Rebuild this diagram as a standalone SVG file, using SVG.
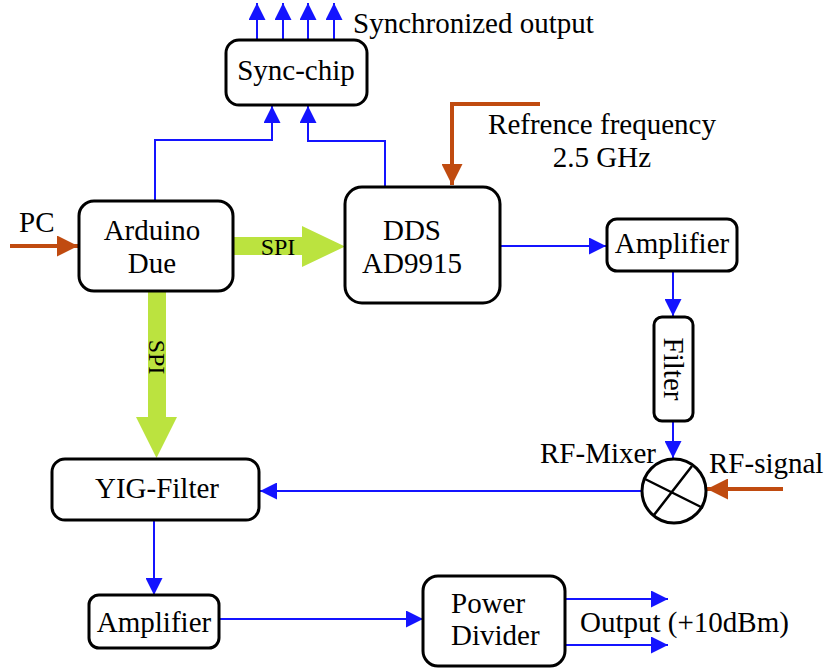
<svg xmlns="http://www.w3.org/2000/svg" width="825" height="668" viewBox="0 0 825 668">
<defs>
<style>
.box{fill:#fff;stroke:#000;stroke-width:3}
.t{font-family:"Liberation Serif","Times New Roman",serif;font-size:29px;fill:#000}
.m{text-anchor:middle}
.s{font-family:"Liberation Serif","Times New Roman",serif;font-size:24px;fill:#000;text-anchor:middle}
.bl{fill:none;stroke:#1414ff;stroke-width:2}
.or{fill:none;stroke:#c04b10;stroke-width:4}
.gr{fill:#bbe33f}
</style>
<marker id="ab" viewBox="0 0 10 10" refX="10" refY="5" markerWidth="17" markerHeight="17" markerUnits="userSpaceOnUse" orient="auto"><path d="M0,0 L10,5 L0,10 Z" fill="#1414ff"/></marker>
<marker id="ao" viewBox="0 0 10 10" refX="10" refY="5" markerWidth="21" markerHeight="21" markerUnits="userSpaceOnUse" orient="auto"><path d="M0,0 L10,5 L0,10 Z" fill="#c04b10"/></marker>
</defs>

<g id="connectors">
<path class="bl" d="M257,40 V3" marker-end="url(#ab)"/>
<path class="bl" d="M283,40 V3" marker-end="url(#ab)"/>
<path class="bl" d="M308,40 V3" marker-end="url(#ab)"/>
<path class="bl" d="M334,40 V3" marker-end="url(#ab)"/>
<path class="bl" d="M155,201 V140 H272 V106" marker-end="url(#ab)"/>
<path class="bl" d="M385,187 V141 H308 V106" marker-end="url(#ab)"/>
<path class="bl" d="M500,246 H606" marker-end="url(#ab)"/>
<path class="bl" d="M673,271 V316" marker-end="url(#ab)"/>
<path class="bl" d="M673,421 V458" marker-end="url(#ab)"/>
<path class="bl" d="M642,491 H260" marker-end="url(#ab)"/>
<path class="bl" d="M154,520 V595" marker-end="url(#ab)"/>
<path class="bl" d="M219,619 H423" marker-end="url(#ab)"/>
<path class="bl" d="M565,599 H668" marker-end="url(#ab)"/>
<path class="bl" d="M565,645 H668" marker-end="url(#ab)"/>
<path class="or" d="M540,104 H452 V185" marker-end="url(#ao)"/>
<path class="or" d="M10,246 H78" marker-end="url(#ao)"/>
<path class="or" d="M783,489 H707" marker-end="url(#ao)"/>
<path class="gr" d="M233,237 H302 V226 L345,246.5 L302,267 V255 H233 Z"/>
<path class="gr" d="M148,291 H166 V417 H177 L156.5,458 L136,417 H148 Z"/>
<text class="s" x="278" y="255">SPI</text>
<text class="s" transform="translate(149,357) rotate(90)">SPI</text>
</g>

<g id="sync-chip">
<rect class="box" x="226" y="40" width="141" height="65" rx="13"/>
<text class="t m" x="296" y="80">Sync-chip</text>
</g>
<text id="sync-label" class="t" x="353" y="33">Synchronized output</text>

<g id="ref-label">
<text class="t m" x="602" y="134">Refrence frequency</text>
<text class="t m" x="602" y="167">2.5 GHz</text>
</g>

<text id="pc-label" class="t" x="19" y="232">PC</text>

<g id="arduino">
<rect class="box" x="79" y="201" width="154" height="90" rx="15"/>
<text class="t m" x="152" y="240">Arduino</text>
<text class="t m" x="152" y="273">Due</text>
</g>

<g id="dds">
<rect class="box" x="345" y="187" width="155" height="116" rx="17"/>
<text class="t m" x="412" y="240">DDS</text>
<text class="t m" x="412" y="273">AD9915</text>
</g>

<g id="amplifier1">
<rect class="box" x="607" y="219" width="130" height="52" rx="10"/>
<text class="t m" x="672" y="253">Amplifier</text>
</g>

<g id="filter">
<rect class="box" x="654" y="317" width="39" height="104" rx="8"/>
<text class="t m" transform="translate(664,369) rotate(90)">Filter</text>
</g>

<g id="mixer">
<circle cx="674" cy="491" r="32" fill="#fff" stroke="#000" stroke-width="3"/>
<path d="M645,479 L703,508 M692,466 L654,515" stroke="#000" stroke-width="2.5" fill="none"/>
<text class="t" x="540" y="463">RF-Mixer</text>
</g>
<text id="rf-signal-label" class="t" x="709" y="473">RF-signal</text>

<g id="yig-filter">
<rect class="box" x="52" y="459" width="207" height="61" rx="13"/>
<text class="t m" x="157" y="498">YIG-Filter</text>
</g>

<g id="amplifier2">
<rect class="box" x="89" y="595" width="130" height="53" rx="10"/>
<text class="t m" x="154" y="632">Amplifier</text>
</g>

<g id="power-divider">
<rect class="box" x="423" y="576" width="142" height="90" rx="15"/>
<text class="t" x="451" y="613">Power</text>
<text class="t" x="451" y="645">Divider</text>
</g>
<text id="output-label" class="t" x="580" y="632">Output (+10dBm)</text>
</svg>
